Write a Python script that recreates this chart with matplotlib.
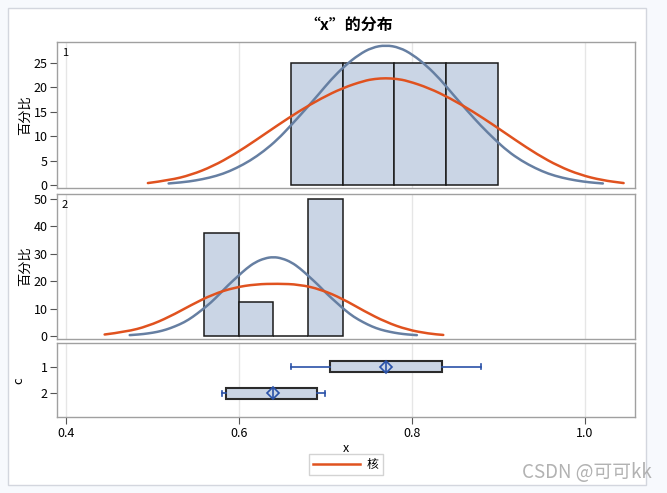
import matplotlib
matplotlib.use("Agg")
import matplotlib.pyplot as plt
from matplotlib.patches import Rectangle, PathPatch
from matplotlib.path import Path
from matplotlib.lines import Line2D

plt.rcParams['font.family'] = ['Noto Sans CJK SC', 'DejaVu Sans']

# histogram bins (percent) per group
g1_edges = [0.66, 0.72, 0.78, 0.84, 0.90]
g1_pct = [25, 25, 25, 25]
g2_edges = [0.56, 0.60, 0.64, 0.68, 0.72]
g2_pct = [37.5, 12.5, 0, 50]

# fitted normal curves
g1_norm_x = [0.519, 0.535, 0.550, 0.566, 0.582, 0.597, 0.613, 0.629, 0.645, 0.660, 0.676,
             0.692, 0.707, 0.723, 0.739, 0.754, 0.770, 0.786, 0.801, 0.817, 0.833, 0.848,
             0.864, 0.880, 0.896, 0.911, 0.927, 0.943, 0.958, 0.974, 0.990, 1.005, 1.021]
g1_norm_y = [0.32, 0.55, 0.92, 1.48, 2.29, 3.43, 4.95, 6.91, 9.31, 12.11, 15.22, 18.45,
             21.60, 24.42, 26.66, 28.10, 28.60, 28.10, 26.66, 24.42, 21.60, 18.45, 15.22,
             12.11, 9.31, 6.91, 4.95, 3.43, 2.29, 1.48, 0.92, 0.55, 0.32]
g2_norm_x = [0.474, 0.485, 0.495, 0.506, 0.516, 0.526, 0.537, 0.547, 0.557, 0.568, 0.578,
             0.588, 0.599, 0.609, 0.619, 0.630, 0.640, 0.650, 0.661, 0.671, 0.681, 0.692,
             0.702, 0.713, 0.723, 0.733, 0.744, 0.754, 0.764, 0.775, 0.785, 0.795, 0.806]
g2_norm_y = [0.32, 0.56, 0.93, 1.49, 2.31, 3.46, 5.00, 6.98, 9.40, 12.22, 15.35, 18.62,
             21.80, 24.65, 26.91, 28.36, 28.86, 28.36, 26.91, 24.65, 21.80, 18.62, 15.35,
             12.22, 9.40, 6.98, 5.00, 3.46, 2.31, 1.49, 0.93, 0.56, 0.32]

# kernel density curves
g1_kern_x = [0.495, 0.52, 0.545, 0.57, 0.595, 0.62, 0.645, 0.67, 0.695, 0.72, 0.745, 0.7575,
             0.77, 0.7825, 0.795, 0.82, 0.845, 0.87, 0.895, 0.92, 0.945, 0.97, 0.995, 1.02, 1.045]
g1_kern_y = [0.40, 0.98, 2.07, 3.83, 6.27, 9.18, 12.22, 15.11, 17.68, 19.82, 21.30, 21.70,
             21.84, 21.70, 21.30, 19.82, 17.68, 15.11, 12.22, 9.18, 6.27, 3.83, 2.07, 0.98, 0.40]
g2_kern_x = [0.445, 0.47, 0.495, 0.52, 0.545, 0.57, 0.595, 0.62, 0.645, 0.67, 0.695, 0.72,
             0.745, 0.77, 0.795, 0.82, 0.8365]
g2_kern_y = [0.55, 1.55, 3.6, 7.0, 11.3, 15.2, 17.7, 18.9, 19.1, 18.8, 17.0, 13.6,
             9.1, 5.1, 2.3, 0.85, 0.39]

# box plot summary per group c
groups = ['1', '2']
box_min = [0.66, 0.581]
box_q1 = [0.705, 0.585]
box_med = [0.77, 0.64]
box_mean = [0.77, 0.64]
box_q3 = [0.835, 0.691]
box_max = [0.88, 0.70]

bar_fill = '#CAD5E5'
norm_col = '#667FA2'
kern_col = '#E0521F'
box_blue = '#2A52A8'
frame_col = '#A0A0A0'


def smooth_line(ax, xs, ys, **kw):
    # quadratic bezier through the read points (points act as control points)
    verts = [(xs[0], ys[0])]
    codes = [Path.MOVETO]
    for i in range(1, len(xs) - 1):
        verts += [(xs[i], ys[i]), ((xs[i] + xs[i + 1]) / 2, (ys[i] + ys[i + 1]) / 2)]
        codes += [Path.CURVE3, Path.CURVE3]
    verts.append((xs[-1], ys[-1]))
    codes.append(Path.LINETO)
    ax.add_patch(PathPatch(Path(verts, codes), fill=False, capstyle='round', **kw))


fig = plt.figure(figsize=(6.67, 4.93), dpi=100)
fig.patch.set_facecolor('#F7F9FD')
fig.patches.append(Rectangle((8 / 667, 1 - 485 / 493), 638 / 667, 477 / 493,
                             transform=fig.transFigure, facecolor='white',
                             edgecolor='#D3D6DE', lw=1, zorder=-1))

left, width = 57.4 / 667, 577.9 / 667
ax1 = fig.add_axes([left, 1 - 188.3 / 493, width, 146.6 / 493])
ax2 = fig.add_axes([left, 1 - 339 / 493, width, 145 / 493])
ax3 = fig.add_axes([left, 1 - 417.3 / 493, width, 74 / 493])

xlim = (0.3904, 1.0585)


def style(ax):
    ax.set_xlim(*xlim)
    ax.set_xticks([0.4, 0.6, 0.8, 1.0])
    ax.grid(axis='x', color='#E6E6E6', lw=1)
    ax.set_axisbelow(True)
    for s in ax.spines.values():
        s.set_color(frame_col)
        s.set_linewidth(1)
    ax.tick_params(axis='y', length=5, color='#555555', labelsize=9, pad=2)
    ax.tick_params(axis='x', length=5, color='#555555', labelsize=9, pad=2)


for ax, edges, pct, nx, ny, kx, ky, lab in [
        (ax1, g1_edges, g1_pct, g1_norm_x, g1_norm_y, g1_kern_x, g1_kern_y, '1'),
        (ax2, g2_edges, g2_pct, g2_norm_x, g2_norm_y, g2_kern_x, g2_kern_y, '2')]:
    style(ax)
    lefts = edges[:-1]
    widths = [b - a for a, b in zip(edges[:-1], edges[1:])]
    ax.bar(lefts, pct, width=widths, align='edge', color=bar_fill,
           edgecolor='#1A1A1A', lw=1.1, zorder=2)
    smooth_line(ax, nx, ny, edgecolor=norm_col, lw=1.8, zorder=3)
    smooth_line(ax, kx, ky, edgecolor=kern_col, lw=1.8, zorder=4)
    ax.set_ylabel('百分比', fontsize=9.5, labelpad=1)
    ax.text(0.008, 0.96, lab, transform=ax.transAxes, fontsize=8, va='top', ha='left')
    ax.tick_params(axis='x', bottom=False, labelbottom=False)

ax1.set_ylim(-0.67, 29.29)
ax1.set_yticks([0, 5, 10, 15, 20, 25])
ax2.set_ylim(-1.09, 51.82)
ax2.set_yticks([0, 10, 20, 30, 40, 50])

# box plot panel
style(ax3)
stats = []
for i in range(len(groups)):
    stats.append(dict(label=groups[i], whislo=box_min[i], q1=box_q1[i], med=box_med[i],
                      mean=box_mean[i], q3=box_q3[i], whishi=box_max[i], fliers=[]))
ax3.bxp(stats, positions=[1, 2], widths=0.42, orientation='horizontal', patch_artist=True,
        showmeans=True, capwidths=0.18,
        boxprops=dict(facecolor=bar_fill, edgecolor='#2B2B2B', lw=1.5),
        whiskerprops=dict(color=box_blue, lw=1.2),
        capprops=dict(color=box_blue, lw=1.2),
        medianprops=dict(color=box_blue, lw=1.2),
        meanprops=dict(marker='D', markersize=6.5, markerfacecolor='none',
                       markeredgecolor=box_blue, markeredgewidth=1.2))
ax3.set_ylim(2.9, 0.123)
ax3.set_yticks([1, 2])
ax3.set_yticklabels(groups)
ax3.set_xticks([0.4, 0.6, 0.8, 1.0])
ax3.set_xticklabels(['0.4', '0.6', '0.8', '1.0'])
ax3.set_ylabel('c', fontsize=9.5)
ax3.yaxis.set_label_coords(-0.055, 0.5)
ax3.set_xlabel('x', fontsize=9)
ax3.xaxis.set_label_coords(0.5, -0.33)

fig.text(349 / 667, 1 - 25 / 493, '“x”的分布', ha='center', va='center',
         fontsize=11.5, fontweight='bold')

handle = Line2D([], [], color=kern_col, lw=1.8)
fig.legend([handle], ['核'], loc='center', bbox_to_anchor=(345.7 / 667, 1 - 464.6 / 493),
           fontsize=8.5, frameon=True, fancybox=False, edgecolor='#C8C8C8',
           handlelength=4.0, borderpad=0.35, handletextpad=0.6)

fig.text(652 / 667, 1 - 473 / 493, 'CSDN @可可kk', ha='right', va='center',
         fontsize=13.5, color='#AAAAAA', alpha=0.9)

fig.savefig('out.png', dpi=100, facecolor=fig.get_facecolor())
